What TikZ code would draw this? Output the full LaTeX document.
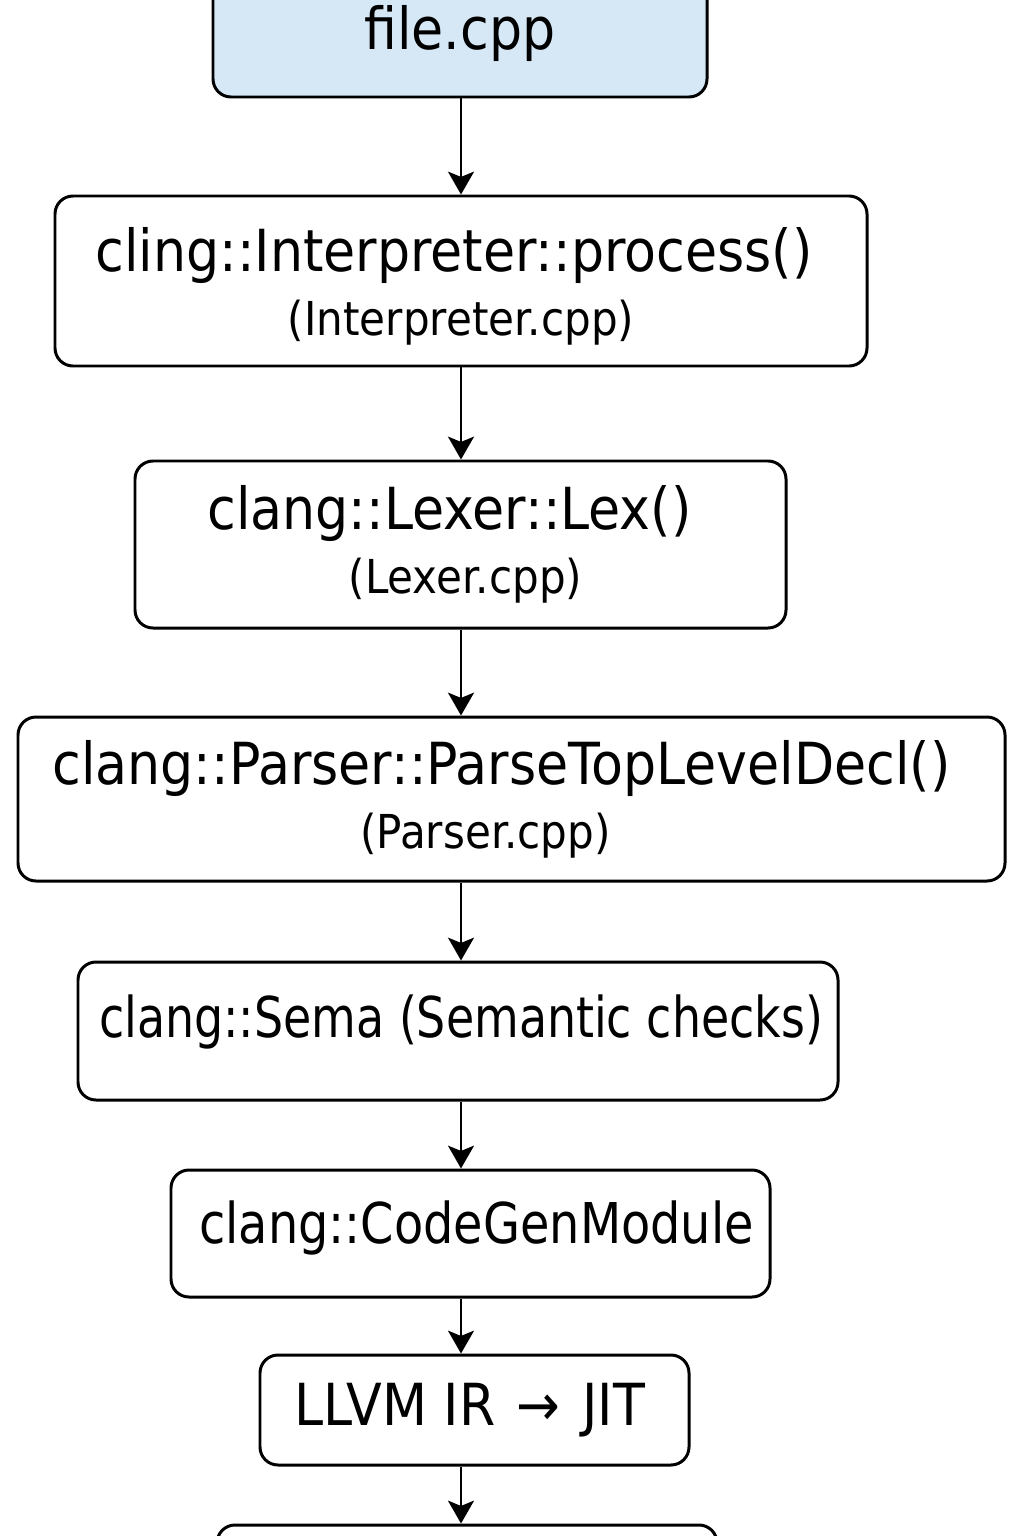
\documentclass[tikz,border=0pt]{standalone}
\usepackage{fontspec}
\setmainfont{DejaVu Sans}[FakeStretch=0.9]
\newfontfamily\semafont{DejaVu Sans}[FakeStretch=0.816]
\newfontfamily\cgfont{DejaVu Sans}[FakeStretch=0.85]
\usetikzlibrary{arrows.meta}
\definecolor{filefill}{HTML}{D6E8F5}
\newcommand{\srcname}[1]{{\fontsize{13.3}{16}\selectfont #1}}

\begin{document}
\begin{tikzpicture}[font=\fontsize{16.5}{18.2}\selectfont,
                    box/.style={draw, rounded corners=0.18cm, line width=0.85pt, align=center, inner sep=0pt},
                    flow/.style={-{Stealth[length=6.5pt,width=7.4pt,inset=1.5pt]}, line width=0.7pt}]
  \useasboundingbox (0,0) rectangle (10.24,-15.36);
  \clip (0,0) rectangle (10.24,-15.36);
  \coordinate (axis) at (4.61,0);

  \node[box, fill=filefill, minimum width=4.94cm, minimum height=1.27cm] (file) at (4.60,-0.335) {file.cpp};
  \node[box, minimum width=8.12cm, minimum height=1.70cm] (interp) at (4.61,-2.81)
    {\raisebox{-1.4pt}[\height][\depth]{cling::Interpreter::process()}\hspace*{0.14cm}\\
     \raisebox{-1.4pt}[\height][\depth]{\srcname{(Interpreter.cpp)}}};
  \node[box, minimum width=6.51cm, minimum height=1.67cm] (lexer) at (4.605,-5.445)
    {clang::Lexer::Lex()\hspace*{0.22cm}\\ \hspace*{0.10cm}\srcname{(Lexer.cpp)}};
  \node[box, minimum width=9.87cm, minimum height=1.64cm] (parser) at (5.115,-7.99)
    {clang::Parser::ParseTopLevelDecl()\hspace*{0.2cm}\\ \srcname{(Parser.cpp)}\hspace*{0.52cm}};
  \node[box, minimum width=7.60cm, minimum height=1.38cm] (sema) at (4.58,-10.31)
    {\hspace*{0.06cm}\raisebox{2.6pt}[\height][\depth]{\fontsize{16}{18}\semafont clang::Sema (Semantic checks)}};
  \node[box, minimum width=5.99cm, minimum height=1.27cm] (codegen) at (4.705,-12.335)
    {\hspace*{0.12cm}\raisebox{1.7pt}[\height][\depth]{\fontsize{16}{18}\cgfont clang::CodeGenModule}};
  \node[box, minimum width=4.29cm, minimum height=1.10cm] (jit) at (4.745,-14.10)
    {LLVM IR\ \kern0.05cm→\kern0.05cm\ JIT\hspace*{0.1cm}};
  \node[box, minimum width=5.00cm, minimum height=1.30cm] (next) at (4.67,-15.90) {};

  \path[flow]
    (file.south -| axis) edge (interp.north -| axis)
    (interp.south -| axis) edge (lexer.north -| axis)
    (lexer.south -| axis) edge (parser.north -| axis)
    (parser.south -| axis) edge (sema.north -| axis)
    (sema.south -| axis) edge (codegen.north -| axis)
    (codegen.south -| axis) edge (jit.north -| axis)
    (jit.south -| axis) edge (next.north -| axis);
\end{tikzpicture}
\end{document}
